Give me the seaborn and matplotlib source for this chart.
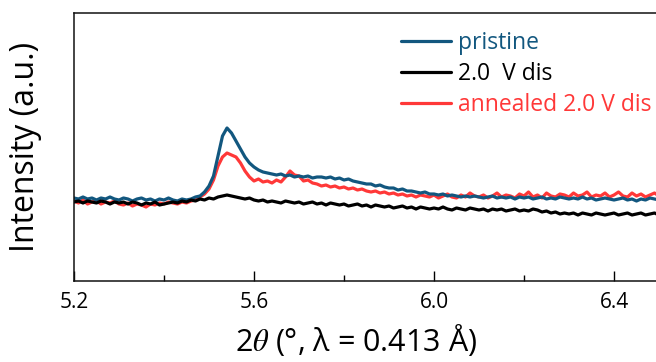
import numpy as np
import pandas as pd
import matplotlib.pyplot as plt
import seaborn as sns
from matplotlib.lines import Line2D
from matplotlib.ticker import MultipleLocator

# scan grid, 2theta in degrees (step 0.01)
two_theta = np.round(np.arange(5.20, 6.505, 0.01), 2)

pristine = [
    83, 82, 84, 82, 83, 81, 83, 82, 84, 82,
    81, 83, 82, 80, 82, 83, 81, 82, 80, 82,
    81, 83, 81, 80, 82, 81, 82, 84, 85, 89,
    95, 105, 125, 145, 153, 148, 140, 132, 124, 118, 114, 111, 109, 108,
    107, 106, 107, 105, 106, 104,
    105, 104, 105, 103, 104, 104, 103, 104, 102, 103,
    101, 102, 100, 99, 98, 97, 97, 95, 96, 94,
    93, 93, 91, 92, 90, 90, 89, 88, 89, 87,
    87, 86, 87, 85, 86, 85, 84, 85, 84, 85,
    84, 83, 84, 85, 83, 84, 83, 84, 82, 84,
    83, 84, 82, 83, 84, 82, 83, 82, 84, 83,
    82, 83, 82, 84, 82, 83, 81, 82, 83, 82,
    81, 82, 83, 81, 82, 80, 82, 81, 83, 82, 81,
]

dis_2v = [
    79, 80, 78, 80, 79, 78, 80, 79, 77, 79,
    78, 79, 77, 79, 78, 76, 78, 77, 79, 76,
    77, 78, 79, 78, 80, 79, 81, 80, 82, 81,
    83, 82, 84, 85, 86, 85, 84, 83, 82, 83, 81, 80, 81, 79,
    80, 79, 78, 80, 79, 78,
    79, 77, 78, 79, 77, 78, 76, 78, 77, 76,
    77, 75, 76, 77, 75, 76, 74, 76, 75, 74,
    75, 73, 74, 75, 73, 74, 72, 74, 73, 72,
    73, 72, 74, 72, 71, 73, 72, 71, 73, 72,
    71, 72, 70, 72, 71, 72, 70, 71, 72, 70,
    71, 70, 72, 71, 69, 70, 68, 69, 67, 68,
    67, 68, 66, 68, 67, 66, 68, 67, 66, 67,
    68, 66, 67, 68, 66, 67, 68, 66, 67, 68, 66,
]

annealed = [
    80, 78, 81, 77, 79, 80, 77, 79, 78, 80,
    77, 76, 78, 75, 77, 76, 74, 77, 76, 78,
    77, 79, 78, 77, 79, 78, 80, 81, 84, 87,
    92, 101, 115, 124, 128, 126, 124, 118, 110, 104, 100, 102, 99, 100,
    98, 101, 99, 104, 110, 106,
    105, 100, 101, 98, 97, 95, 96, 94, 95, 93,
    94, 92, 93, 91, 92, 90, 89, 90, 88, 89,
    87, 88, 86, 87, 85, 86, 84, 86, 85, 84,
    86, 83, 85, 87, 84, 83, 86, 84, 88, 85,
    84, 86, 83, 85, 88, 84, 86, 85, 83, 87,
    85, 89, 84, 86, 83, 88, 85, 84, 87, 86,
    84, 88, 85, 86, 89, 84, 86, 85, 88, 84,
    86, 89, 85, 84, 88, 85, 87, 84, 86, 88, 85,
]

labels = ["pristine", "2.0  V dis", "annealed 2.0 V dis"]
colors = ["#12577f", "#000000", "#ff3838"]

df = pd.DataFrame({"two_theta": two_theta, labels[0]: pristine,
                   labels[1]: dis_2v, labels[2]: annealed})

sns.set_style("ticks")
plt.rcParams["font.family"] = ["Open Sans", "DejaVu Sans"]
plt.rcParams["mathtext.fontset"] = "stix"

fig = plt.figure(figsize=(6.56, 3.62), dpi=100)
ax = fig.add_axes([74 / 656, 81 / 362, 630 / 656, 268 / 362])

# draw order: annealed, pristine, then 2.0 V dis on top
for i in [2, 0, 1]:
    sns.lineplot(data=df, x="two_theta", y=labels[i], color=colors[i],
                 lw=2.3, ax=ax, legend=False)

ax.set_xlim(5.2, 6.6)
ax.set_ylim(0, 268)
ax.xaxis.set_minor_locator(MultipleLocator(0.2))
ax.set_xticks([5.2, 5.6, 6.0, 6.4])
ax.set_xticklabels(["5.2", "5.6", "6.0", "6.4"])
ax.set_yticks([])
ax.tick_params(axis="x", which="major", direction="in", length=7, width=1,
               labelsize=15, pad=8, colors="black")
ax.tick_params(axis="x", which="minor", direction="in", length=4.5, width=1,
               colors="black")
for s in ax.spines.values():
    s.set_linewidth(1.1)
    s.set_color("#111111")

ax.set_xlabel(r"2$\theta$ (°, λ = 0.413 Å)", fontsize=22, color="black")
ax.xaxis.set_label_coords((356 - 74) / 630, -0.152)
ax.set_ylabel("Intensity (a.u.)", fontsize=23, color="black")
ax.yaxis.set_label_coords((42 - 74) / 630, 0.5)

handles = [Line2D([], [], color=colors[i], lw=2.3) for i in range(3)]
leg = ax.legend(handles, labels, loc="upper left",
                bbox_to_anchor=(401 / 656, 331 / 362),
                bbox_transform=fig.transFigure, frameon=False,
                fontsize=16.5, handlelength=2.2, handletextpad=0.3,
                labelspacing=0.3, borderaxespad=0, borderpad=0)
for t, c in zip(leg.get_texts(), colors):
    t.set_color(c)

fig.savefig("out.png", dpi=100)
